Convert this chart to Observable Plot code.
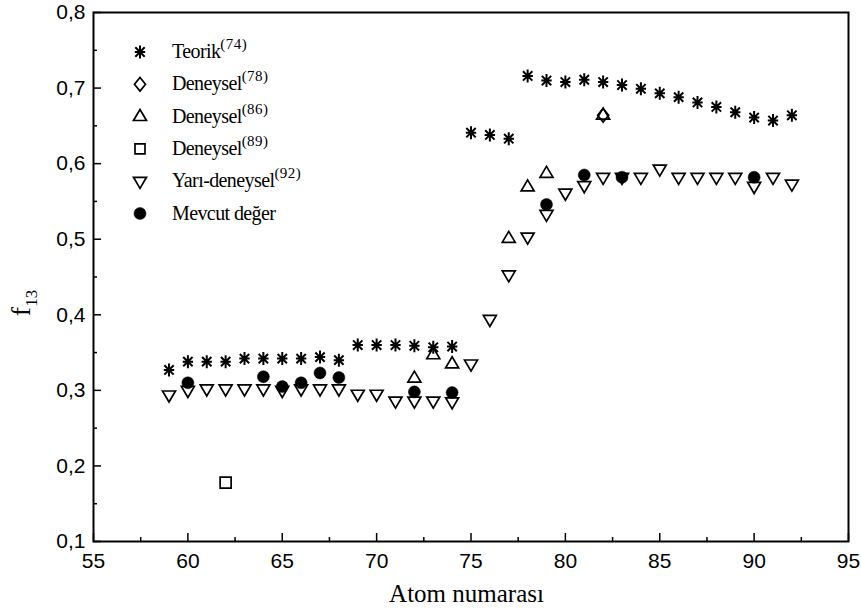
<!DOCTYPE html>
<html><head><meta charset="utf-8">
<script src="https://cdn.jsdelivr.net/npm/d3@7"></script>
<script src="https://cdn.jsdelivr.net/npm/@observablehq/plot@0.6"></script>
<style>
body{margin:0;background:#fff;}
#chart{position:relative;width:861px;height:609px;}
</style></head><body><div id="chart"></div>
<script>
// ---- data ----
const teorikZ = [59,60,61,62,63,64,65,66,67,68,69,70,71,72,73,74,75,76,77,78,79,80,81,82,83,84,85,86,87,88,89,90,91,92];
const teorikF = [0.327,0.338,0.338,0.338,0.342,0.342,0.342,0.342,0.344,0.340,0.360,0.360,0.360,0.359,0.357,0.358,0.641,0.638,0.633,0.716,0.710,0.708,0.711,0.708,0.704,0.699,0.693,0.688,0.681,0.675,0.668,0.661,0.657,0.664];
const den78Z = [82];
const den78F = [0.664];
const den86Z = [72,73,74,77,78,79,82];
const den86F = [0.316,0.347,0.335,0.501,0.569,0.587,0.664];
const den89Z = [62];
const den89F = [0.178];
const yariZ = [59,60,61,62,63,64,65,66,67,68,69,70,71,72,73,74,75,76,77,78,79,80,81,82,83,84,85,86,87,88,89,90,91,92];
const yariF = [0.294,0.300,0.302,0.302,0.302,0.302,0.300,0.302,0.302,0.302,0.295,0.295,0.286,0.286,0.286,0.285,0.335,0.394,0.453,0.503,0.533,0.561,0.571,0.582,0.582,0.582,0.593,0.582,0.582,0.582,0.582,0.570,0.582,0.573];
const mevcutZ = [60,64,65,66,67,68,72,74,79,81,83,90];
const mevcutF = [0.310,0.318,0.305,0.310,0.323,0.317,0.298,0.297,0.546,0.585,0.582,0.582];
const xTicks = [55,60,65,70,75,80,85,90,95];
const xMinor = [57.5,62.5,67.5,72.5,77.5,82.5,87.5,92.5];
const yTicks = [0.1,0.2,0.3,0.4,0.5,0.6,0.7,0.8];
const yMinor = [0.15,0.25,0.35,0.45,0.55,0.65,0.75];
const legendNames = ["Teorik","Deneysel","Deneysel","Deneysel","Yarı-deneysel","Mevcut değer"];
const legendRefs = ["(74)","(78)","(86)","(89)","(92)",""];

// ---- custom symbols ----
const rad = s => Math.sqrt(s / Math.PI);
const asterisk = {draw(c, s){const r = rad(s), d = r*0.72;
  c.moveTo(0,-r); c.lineTo(0,r); c.moveTo(-r*0.8,0); c.lineTo(r*0.8,0);
  c.moveTo(-d,-d); c.lineTo(d,d); c.moveTo(-d,d); c.lineTo(d,-d);}};
const diamond = {draw(c, s){const r = rad(s);
  c.moveTo(0,-r*1.05); c.lineTo(r*0.85,0); c.lineTo(0,r*1.05); c.lineTo(-r*0.85,0); c.closePath();}};
const triUp = {draw(c, s){const r = rad(s);
  c.moveTo(0,-r*1.1); c.lineTo(r,r*0.6); c.lineTo(-r,r*0.6); c.closePath();}};
const triDown = {draw(c, s){const r = rad(s);
  c.moveTo(-r,-r*0.6); c.lineTo(r,-r*0.6); c.lineTo(0,r*1.1); c.closePath();}};
const square = {draw(c, s){const r = rad(s);
  c.rect(-r,-r,2*r,2*r);}};
const circle = {draw(c, s){const r = rad(s);
  c.moveTo(r,0); c.arc(0,0,r,0,2*Math.PI);}};

const W = 861, H = 609, mL = 93, mR = 13, mT = 12, mB = 68;
const plotW = W - mL - mR, plotH = H - mT - mB;
const fmt = d => d.toFixed(1).replace(".", ",");
const sw = 1.7;

const chart = Plot.plot({
  width: W, height: H,
  marginLeft: mL, marginRight: mR, marginTop: mT, marginBottom: mB,
  style: {fontFamily: "'Liberation Sans Narrow', 'Liberation Sans', Arial, sans-serif", fontSize: "21px", color: "black", background: "white"},
  x: {domain: [55,95]},
  y: {domain: [0.1,0.8]},
  marks: [
    Plot.ruleY(yTicks, {y: d => d, insetRight: plotW - 8, stroke: "black", strokeWidth: 1.5}),
    Plot.ruleY(yMinor, {y: d => d, insetRight: plotW - 4, stroke: "black", strokeWidth: 1.5}),
    Plot.ruleX(xTicks, {x: d => d, insetTop: plotH - 8, stroke: "black", strokeWidth: 1.5}),
    Plot.ruleX(xMinor, {x: d => d, insetTop: plotH - 4, stroke: "black", strokeWidth: 1.5}),
    Plot.axisX(xTicks, {tickSize: 0, tickPadding: 12, label: null, tickFormat: d => String(d)}),
    Plot.axisY(yTicks, {tickSize: 0, tickPadding: 8, label: null, tickFormat: fmt}),
    Plot.frame({stroke: "black", strokeWidth: 2}),
    Plot.dot(teorikZ, {x: teorikZ, y: teorikF, symbol: asterisk, r: 6.5, stroke: "black", fill: "none", strokeWidth: 2}),
    Plot.dot(den78Z, {x: den78Z, y: den78F, symbol: diamond, r: 6.5, stroke: "black", fill: "none", strokeWidth: sw}),
    Plot.dot(den86Z, {x: den86Z, y: den86F, symbol: triUp, r: 6.5, stroke: "black", fill: "none", strokeWidth: sw}),
    Plot.dot(den89Z, {x: den89Z, y: den89F, symbol: square, r: 5.5, stroke: "black", fill: "none", strokeWidth: sw}),
    Plot.dot(yariZ, {x: yariZ, y: yariF, symbol: triDown, r: 6.5, stroke: "black", fill: "none", strokeWidth: sw}),
    Plot.dot(mevcutZ, {x: mevcutZ, y: mevcutF, symbol: circle, r: 6, stroke: "black", fill: "black", strokeWidth: 0.5})
  ]
});
document.getElementById("chart").appendChild(chart);

// ---- titles and legend (layout in pixels) ----
const svg = d3.select(chart);
const serif = "'Liberation Serif', 'Times New Roman', serif";
svg.append("text")
  .attr("x", mL + plotW / 2 - 4).attr("y", 602)
  .attr("text-anchor", "middle")
  .attr("font-family", serif)
  .attr("font-size", 25).attr("fill", "black")
  .text("Atom numarası");

const yl = svg.append("text")
  .attr("transform", "translate(30,303) rotate(-90)")
  .attr("text-anchor", "middle")
  .attr("font-family", serif)
  .attr("font-size", 28).attr("fill", "black");
yl.append("tspan").text("f");
yl.append("tspan").attr("font-size", 17).attr("dy", 7).text("13");

const legSyms = [
  {t: asterisk, r: 6.5, fill: "none", w: 2},
  {t: diamond, r: 6.5, fill: "none", w: sw},
  {t: triUp, r: 6.5, fill: "none", w: sw},
  {t: square, r: 5, fill: "none", w: sw},
  {t: triDown, r: 6.5, fill: "none", w: sw},
  {t: circle, r: 6, fill: "black", w: 0.5}
];
const lg = svg.append("g").attr("text-anchor", "start");
legendNames.forEach((name, i) => {
  const cy = 52 + i * 32.3;
  lg.append("path")
    .attr("transform", `translate(140,${cy})`)
    .attr("d", d3.symbol(legSyms[i].t, Math.PI * legSyms[i].r ** 2)())
    .attr("fill", legSyms[i].fill).attr("stroke", "black").attr("stroke-width", legSyms[i].w);
  const t = lg.append("text")
    .attr("x", 172).attr("y", cy + 6)
    .attr("text-anchor", "start")
    .attr("font-family", serif)
    .attr("font-size", 20).attr("fill", "black")
    .attr("letter-spacing", -0.6);
  t.append("tspan").text(name);
  if (legendRefs[i]) t.append("tspan").attr("font-size", 15).attr("dy", -9).attr("letter-spacing", 0.5).text(legendRefs[i]);
});
</script></body></html>
